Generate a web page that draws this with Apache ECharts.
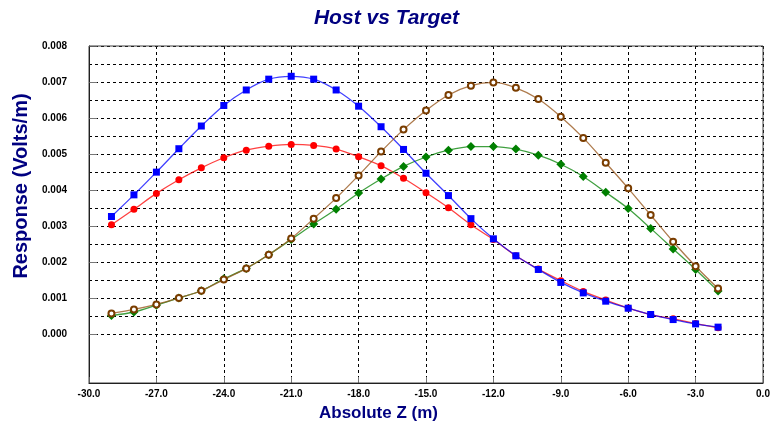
<!DOCTYPE html>
<html>
<head>
<meta charset="utf-8">
<script src="https://cdn.jsdelivr.net/npm/echarts@6/dist/echarts.min.js"></script>
<style>
html,body{margin:0;padding:0;background:#fff;}
#c{width:773px;height:428px;}
</style>
</head>
<body>
<div id="c"></div>
<script>
// Distance values (m)
const zValues = [-29,-28,-27,-26,-25,-24,-23,-22,-21,-20,-19,-18,-17,-16,-15,-14,-13,-12,-11,-10,-9,-8,-7,-6,-5,-4,-3,-2];
// Series (Volts/m)
const blueSeries = [0.00327,0.00387,0.00450,0.00515,0.00578,0.00635,0.00678,0.00708,0.00716,0.00708,0.00678,0.00633,0.00576,0.00513,0.00447,0.00385,0.00321,0.00265,0.00218,0.00180,0.00144,0.00115,0.00092,0.000725,0.00055,0.00041,0.00029,0.00020];
const redSeries = [0.00304,0.00347,0.00391,0.00429,0.00462,0.00490,0.00511,0.00522,0.00527,0.00524,0.00514,0.00493,0.00468,0.00433,0.00393,0.00351,0.00304,0.00263,0.00218,0.00181,0.00149,0.00119,0.00095,0.00073,0.00055,0.00043,0.00030,0.00018];
const brownSeries = [0.00058,0.00069,0.00083,0.00101,0.00121,0.00152,0.00183,0.00221,0.00266,0.00321,0.00378,0.00441,0.00507,0.00568,0.00621,0.00664,0.00690,0.00699,0.00684,0.00653,0.00604,0.00545,0.00476,0.00405,0.00331,0.00257,0.00189,0.00127];
const greenSeries = [0.00052,0.00062,0.00081,0.00101,0.00121,0.00154,0.00183,0.00221,0.00263,0.00306,0.00347,0.00392,0.00431,0.00466,0.00492,0.00511,0.00521,0.00521,0.00514,0.00497,0.00472,0.00438,0.00394,0.00349,0.00294,0.00237,0.00180,0.00120];
// Tick labels
const xTickLabels = [-30,-27,-24,-21,-18,-15,-12,-9,-6,-3,0];
const yTickLabels = [0,0.001,0.002,0.003,0.004,0.005,0.006,0.007,0.008];

function pairs(ys){ return zValues.map((x,i)=>[x, ys[i]]); }

const FONT = '"Liberation Sans", Arial, sans-serif';
const Y_MIN = -0.00135, Y_MAX = 0.008;
const TOP = 46, BOTTOM_PX = 383;
const pxPerUnit = (BOTTOM_PX - TOP) / (Y_MAX - Y_MIN);
const zeroPx = BOTTOM_PX + Y_MIN * pxPerUnit; // pixel of y=0

const chart = echarts.init(document.getElementById('c'), null, {renderer:'canvas'});
chart.setOption({
  backgroundColor:'#fff',
  animation:false,
  title:{
    text:'Host vs Target', left:'center', top:3,
    textStyle:{fontFamily:FONT, fontSize:21, fontWeight:'bold', fontStyle:'italic', color:'#000080'}
  },
  grid:[
    {left:89, right:10, top:TOP, bottom:428-BOTTOM_PX, show:true, borderColor:'#404040', borderWidth:1, z:3},
    {left:89, right:10, top:TOP, bottom:428-zeroPx, show:false, z:0}
  ],
  xAxis:[{
    gridIndex:0, type:'value', min:-30, max:0, interval:1.5,
    axisLine:{show:true, onZero:false, lineStyle:{color:'#000', width:1}},
    axisTick:{show:true, inside:true, length:6, customValues:xTickLabels, lineStyle:{color:'#777'}},
    axisLabel:{customValues:xTickLabels, margin:6, fontFamily:FONT, fontSize:10, fontWeight:'bold', color:'#000',
      formatter:v=>(Math.abs(v)<1e-9?0:v).toFixed(1)},
    splitLine:{show:true, lineStyle:{color:'#000', type:[3,3], width:1}}
  },{
    gridIndex:1, type:'value', min:-30, max:0, show:false
  }],
  yAxis:[{
    gridIndex:0, type:'value', min:Y_MIN, max:Y_MAX,
    axisLine:{show:true, onZero:false, lineStyle:{color:'#000', width:1}},
    axisTick:{show:true, inside:true, length:8, customValues:yTickLabels, lineStyle:{color:'#777'}},
    axisLabel:{customValues:yTickLabels, margin:22, fontFamily:FONT, fontSize:10, fontWeight:'bold', color:'#000',
      formatter:v=>v.toFixed(3)},
    splitLine:{show:false}
  },{
    gridIndex:1, type:'value', min:0, max:0.008, interval:0.0005,
    axisLine:{show:false}, axisTick:{show:false}, axisLabel:{show:false},
    splitLine:{show:true, lineStyle:{color:'#000', type:[3,3], width:1}}
  }],
  graphic:[
    {type:'text', left:381-62, top:405, style:{text:'Absolute Z (m)', font:'bold 17px '+FONT, fill:'#000080'}},
    {type:'text', rotation:Math.PI/2, x:21, y:186, style:{text:'Response (Volts/m)', font:'bold 20px '+FONT, fill:'#000080', align:'center', verticalAlign:'middle'}}
  ],
  series:[
    {type:'line', data:pairs(redSeries), smooth:0.3, z:3, symbol:'circle', symbolSize:7,
      lineStyle:{color:'#ff0000', width:1.3, opacity:0.75}, itemStyle:{color:'#ff0000'}},
    {type:'line', data:pairs(blueSeries), smooth:0.3, z:4, symbol:'rect', symbolSize:7,
      lineStyle:{color:'#0000ff', width:1.3, opacity:0.75}, itemStyle:{color:'#0000ff'}},
    {type:'line', data:pairs(greenSeries), smooth:0.3, z:3, symbol:'diamond', symbolSize:9,
      lineStyle:{color:'#008000', width:1.3, opacity:0.75}, itemStyle:{color:'#008000'}},
    {type:'line', data:pairs(brownSeries), smooth:0.3, z:4, symbol:'emptyCircle', symbolSize:6,
      lineStyle:{color:'#9a5a20', width:1.3, opacity:0.8}, itemStyle:{color:'#7a3d00', borderWidth:2}}
  ]
});
</script>
</body>
</html>
